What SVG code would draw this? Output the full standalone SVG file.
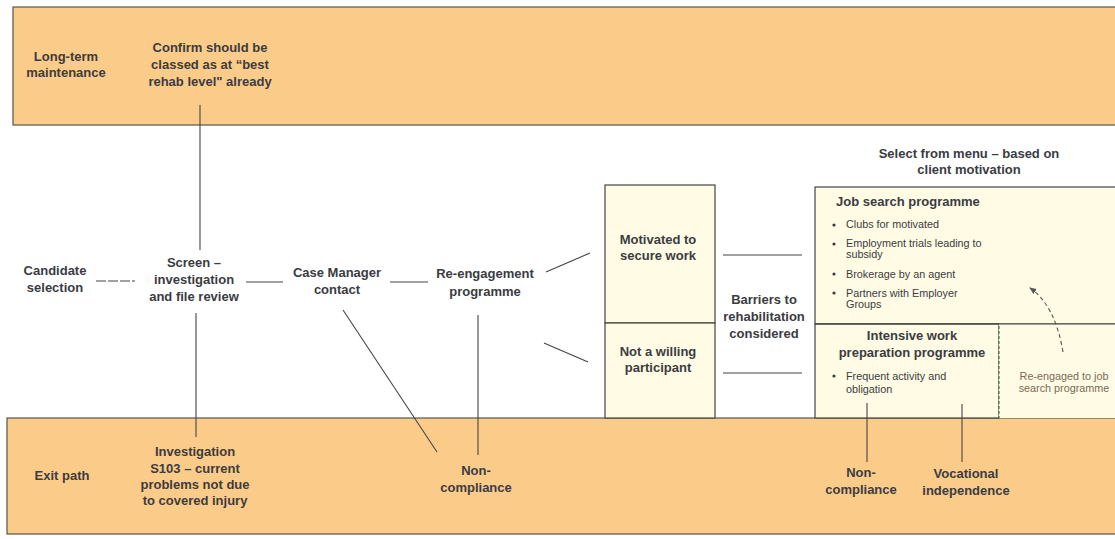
<svg xmlns="http://www.w3.org/2000/svg" width="1115" height="539" viewBox="0 0 1115 539">
<style>
.t{font-family:"Liberation Sans",Arial,sans-serif;font-weight:bold;font-size:13px;fill:#3b3b42;text-anchor:middle}
.s{font-family:"Liberation Sans",Arial,sans-serif;font-size:10.8px;fill:#3b3b42}
.band{fill:#fbcc89;stroke:#555;stroke-width:1.2}
.box{fill:#fffbe4;stroke:#444;stroke-width:1.2}
.ln{stroke:#444;stroke-width:1.1;fill:none}
</style>
<defs>
<marker id="ah" viewBox="0 0 10 10" refX="8" refY="5" markerWidth="7" markerHeight="7" orient="auto"><path d="M0,1 L9,5 L0,9 Z" fill="#555"/></marker>
</defs>
<g id="top-band">
<rect class="band" x="13" y="7" width="1110" height="118"/>
<text class="t" x="66" y="61">Long-term</text>
<text class="t" x="66" y="77">maintenance</text>
</g>
<g id="confirm">
<text class="t" x="210" y="52">Confirm should be</text>
<text class="t" x="210" y="69">classed as at “best</text>
<text class="t" x="210" y="86">rehab level" already</text>
</g>
<g id="exit-band">
<rect class="band" x="7" y="418" width="1116" height="116"/>
<text class="t" x="62" y="480">Exit path</text>
</g>
<g id="motivated">
<rect class="box" x="605" y="185" width="110" height="138"/>
<text class="t" x="658" y="244">Motivated to</text>
<text class="t" x="658" y="260">secure work</text>
</g>
<g id="not-willing">
<rect class="box" x="605" y="323" width="110" height="95"/>
<text class="t" x="658" y="356">Not a willing</text>
<text class="t" x="658" y="372">participant</text>
</g>
<g id="barriers">
<text class="t" x="764" y="304">Barriers to</text>
<text class="t" x="764" y="321">rehabilitation</text>
<text class="t" x="764" y="338">considered</text>
</g>
<g id="menu-label">
<text class="t" x="969" y="158">Select from menu – based on</text>
<text class="t" x="969" y="174">client motivation</text>
</g>
<g id="job-search">
<rect class="box" x="815" y="187" width="308" height="137"/>
<text class="t" x="836" y="206" style="text-anchor:start">Job search programme</text>
<circle cx="834" cy="225" r="1.6" fill="#3b3b42"/>
<text class="s" x="846" y="228">Clubs for motivated</text>
<circle cx="834" cy="244" r="1.6" fill="#3b3b42"/>
<text class="s" x="846" y="247">Employment trials leading to</text>
<text class="s" x="846" y="258">subsidy</text>
<circle cx="834" cy="274" r="1.6" fill="#3b3b42"/>
<text class="s" x="846" y="278">Brokerage by an agent</text>
<circle cx="834" cy="293" r="1.6" fill="#3b3b42"/>
<text class="s" x="846" y="297">Partners with Employer</text>
<text class="s" x="846" y="308">Groups</text>
</g>
<g id="intensive">
<rect class="box" x="815" y="324" width="184" height="94"/>
<text class="t" x="912" y="340">Intensive work</text>
<text class="t" x="912" y="357">preparation programme</text>
<circle cx="834" cy="376" r="1.6" fill="#3b3b42"/>
<text class="s" x="846" y="380">Frequent activity and</text>
<text class="s" x="846" y="393">obligation</text>
</g>
<g id="re-engaged">
<rect x="999" y="324" width="124" height="94" fill="#fffbe4" stroke="none"/>
<line x1="815" y1="324" x2="1115" y2="324" stroke="#444" stroke-width="1.2"/>
<line x1="999" y1="326" x2="999" y2="418" stroke="#3f7a4a" stroke-width="1.2" stroke-dasharray="3,2"/>
<text class="s" x="1064" y="380" style="text-anchor:middle;fill:#7a6a58">Re-engaged to job</text>
<text class="s" x="1064" y="392" style="text-anchor:middle;fill:#7a6a58">search programme</text>
</g>
<g id="candidate">
<text class="t" x="55" y="275">Candidate</text>
<text class="t" x="55" y="292">selection</text>
</g>
<g id="screen">
<text class="t" x="194" y="267">Screen –</text>
<text class="t" x="194" y="284">investigation</text>
<text class="t" x="194" y="301">and file review</text>
</g>
<g id="case-manager">
<text class="t" x="337" y="277">Case Manager</text>
<text class="t" x="337" y="294">contact</text>
</g>
<g id="re-engagement">
<text class="t" x="485" y="278">Re-engagement</text>
<text class="t" x="485" y="296">programme</text>
</g>
<g id="investigation">
<text class="t" x="195" y="456">Investigation</text>
<text class="t" x="195" y="473">S103 – current</text>
<text class="t" x="195" y="489">problems not due</text>
<text class="t" x="195" y="505">to covered injury</text>
</g>
<g id="non-compliance-1">
<text class="t" x="476" y="475">Non-</text>
<text class="t" x="476" y="492">compliance</text>
</g>
<g id="non-compliance-2">
<text class="t" x="861" y="477">Non-</text>
<text class="t" x="861" y="494">compliance</text>
</g>
<g id="vocational">
<text class="t" x="966" y="478">Vocational</text>
<text class="t" x="966" y="495">independence</text>
</g>
<g id="connectors">
<line class="ln" x1="200" y1="105" x2="200" y2="250"/>
<line class="ln" x1="96" y1="281" x2="135" y2="281" stroke-dasharray="10,2"/>
<line class="ln" x1="246" y1="282" x2="283" y2="282"/>
<line class="ln" x1="390" y1="282" x2="428" y2="282"/>
<line class="ln" x1="546" y1="272" x2="590" y2="253"/>
<line class="ln" x1="544" y1="343" x2="588" y2="362"/>
<line class="ln" x1="723" y1="255" x2="802" y2="255"/>
<line class="ln" x1="723" y1="373" x2="802" y2="373"/>
<line class="ln" x1="196" y1="313" x2="196" y2="437"/>
<line class="ln" x1="343" y1="310" x2="437" y2="452"/>
<line class="ln" x1="478" y1="315" x2="478" y2="455"/>
<line class="ln" x1="867" y1="403" x2="867" y2="462"/>
<line class="ln" x1="962" y1="404" x2="962" y2="462"/>
<path d="M1063,352 Q1055,305 1030,288" fill="none" stroke="#555" stroke-width="1.1" stroke-dasharray="4,3" marker-end="url(#ah)"/>
</g>
</svg>
